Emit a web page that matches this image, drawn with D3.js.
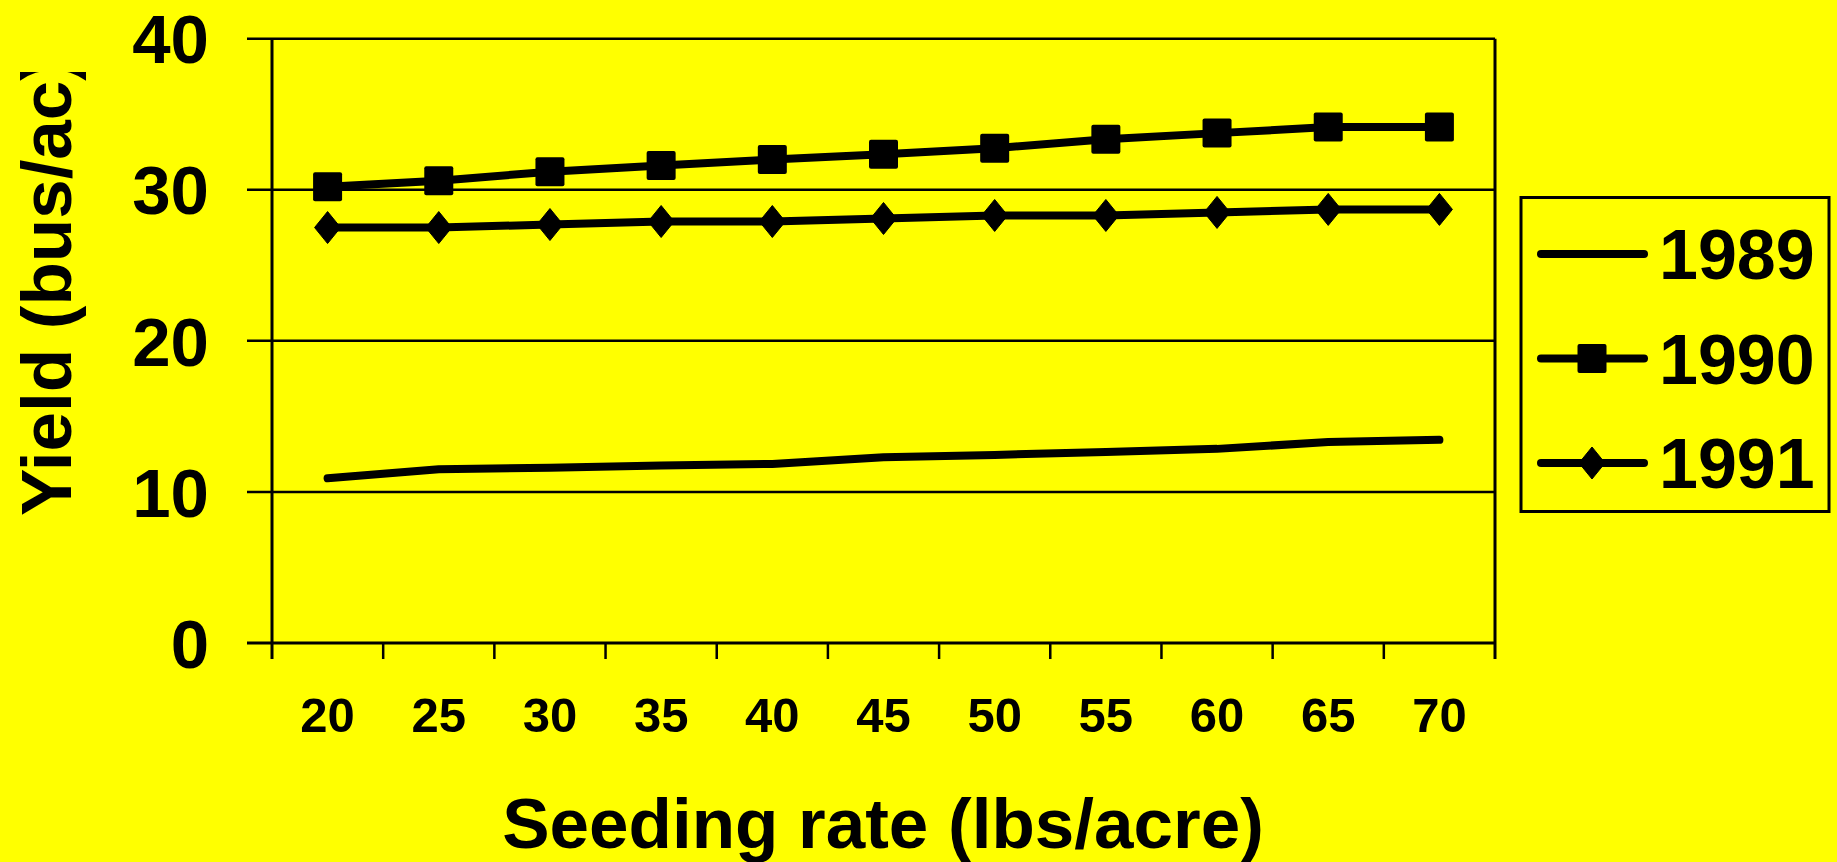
<!DOCTYPE html>
<html>
<head>
<meta charset="utf-8">
<script src="https://cdn.jsdelivr.net/npm/d3@7"></script>
<style>
  html, body { margin: 0; padding: 0; background: #ffff00; }
  svg text { font-family: 'Liberation Sans', Arial, sans-serif; font-weight: bold; fill: #000; }
</style>
</head>
<body>
<div id="graf"></div>
<script>
// Rendimiento vs tasa de siembra

// datos
tasas    = [20, 25, 30, 35, 40, 45, 50, 55, 60, 65, 70]
rend1989 = [10.9, 11.5, 11.6, 11.75, 11.85, 12.3, 12.45, 12.65, 12.85, 13.3, 13.45]
rend1990 = [30.2, 30.6, 31.2, 31.6, 32.0, 32.35, 32.75, 33.35, 33.75, 34.15, 34.15]
rend1991 = [27.5, 27.5, 27.7, 27.9, 27.9, 28.1, 28.3, 28.3, 28.5, 28.7, 28.7]
yTicks   = [0, 10, 20, 30, 40]
anios    = ['1989', '1990', '1991']

ancho_total = 1837
alto_total  = 862

margins = {
  top: 38.7,
  left: 272,
  right: 342,
  bottom: 219
}
ancho = ancho_total - margins.left - margins.right
alto  = alto_total - margins.top - margins.bottom

svg = d3.select('#graf').append('svg')
        .attr('width', ancho_total)
        .attr('height', alto_total)
        .style('display', 'block')

svg.append('rect')
  .attr('width', ancho_total)
  .attr('height', alto_total)
  .attr('fill', '#ffff00')

g = svg.append('g')
       .attr('transform', `translate(${ margins.left }, ${ margins.top })`)

// Escaladores
x = d3.scaleBand().domain(tasas).range([0, ancho])
y = d3.scaleLinear().domain([0, 40]).range([alto, 0])

// lineas de cuadricula (salen 25px a la izquierda como tick)
g.selectAll('.grid')
  .data(yTicks)
  .enter().append('line')
    .attr('class', 'grid')
    .attr('x1', -25)
    .attr('x2', ancho)
    .attr('y1', d => y(d))
    .attr('y2', d => y(d))
    .attr('stroke', '#000')
    .attr('stroke-width', d => d == 0 ? 3 : 2.5)

// etiquetas eje y
g.selectAll('.ylab')
  .data(yTicks)
  .enter().append('text')
    .attr('class', 'ylab')
    .attr('x', -63)
    .attr('y', d => y(d) + 0.358 * 69)
    .attr('text-anchor', 'end')
    .attr('font-size', '69px')
    .text(d => d)

// eje y y borde derecho
g.append('line')
  .attr('x1', 0).attr('x2', 0)
  .attr('y1', 0).attr('y2', alto + 16)
  .attr('stroke', '#000').attr('stroke-width', 3)

g.append('line')
  .attr('x1', ancho).attr('x2', ancho)
  .attr('y1', 0).attr('y2', alto + 16)
  .attr('stroke', '#000').attr('stroke-width', 3)

// ticks del eje x en los bordes de cada categoria
g.selectAll('.xtick')
  .data(tasas.slice(1))
  .enter().append('line')
    .attr('class', 'xtick')
    .attr('x1', d => x(d)).attr('x2', d => x(d))
    .attr('y1', alto).attr('y2', alto + 16)
    .attr('stroke', '#000').attr('stroke-width', 2.5)

// etiquetas eje x
g.selectAll('.xlab')
  .data(tasas)
  .enter().append('text')
    .attr('class', 'xlab')
    .attr('x', d => x(d) + x.bandwidth() / 2)
    .attr('y', alto + 89)
    .attr('text-anchor', 'middle')
    .attr('font-size', '49px')
    .text(d => d)

// titulos
svg.append('text')
  .attr('x', 883)
  .attr('y', 848)
  .attr('text-anchor', 'middle')
  .attr('font-size', '71px')
  .text('Seeding rate (lbs/acre)')

// el titulo y esta recortado arriba, como en el original
svg.append('clipPath')
  .attr('id', 'clipY')
  .append('rect')
    .attr('x', 0).attr('y', 72)
    .attr('width', 200).attr('height', 700)

svg.append('g')
  .attr('clip-path', 'url(#clipY)')
  .append('text')
    .attr('transform', 'translate(71, 516) rotate(-90)')
    .attr('font-size', '71px')
    .text('Yield (bus/ac)')

// series
series = [
  { nombre: anios[0], valores: rend1989, marca: 'none' },
  { nombre: anios[1], valores: rend1990, marca: 'cuadro' },
  { nombre: anios[2], valores: rend1991, marca: 'rombo' }
]

cx = d => x(d) + x.bandwidth() / 2

linea = d3.line()
          .x((d, i) => cx(tasas[i]))
          .y(d => y(d))

function marcador(sel, tipo) {
  if (tipo == 'cuadro') {
    sel.append('rect')
      .attr('x', -14.5).attr('y', -14.5)
      .attr('width', 29).attr('height', 29)
      .attr('rx', 2)
      .attr('fill', '#000')
  } else if (tipo == 'rombo') {
    sel.append('path')
      .attr('d', 'M0,-16L13,0L0,16L-13,0Z')
      .attr('fill', '#000')
      .attr('stroke', '#000')
      .attr('stroke-width', 1)
      .attr('stroke-linejoin', 'round')
  }
}

series.forEach(s => {
  g.append('path')
    .datum(s.valores)
    .attr('d', linea)
    .attr('fill', 'none')
    .attr('stroke', '#000')
    .attr('stroke-width', 8)
    .attr('stroke-linecap', 'round')
    .attr('stroke-linejoin', 'round')

  if (s.marca != 'none') {
    g.selectAll('.m' + s.nombre)
      .data(s.valores)
      .enter().append('g')
        .attr('class', 'm' + s.nombre)
        .attr('transform', (d, i) => `translate(${ cx(tasas[i]) }, ${ y(d) })`)
        .each(function() { marcador(d3.select(this), s.marca) })
  }
})

// Leyenda
leyenda = svg.append('g')

leyenda.append('rect')
  .attr('x', 1521)
  .attr('y', 197.5)
  .attr('width', 308)
  .attr('height', 314)
  .attr('fill', 'none')
  .attr('stroke', '#000')
  .attr('stroke-width', 3)

series.forEach((s, i) => {
  ly = 254 + i * 104.5
  leyenda.append('line')
    .attr('x1', 1541).attr('x2', 1644)
    .attr('y1', ly).attr('y2', ly)
    .attr('stroke', '#000')
    .attr('stroke-width', 8)
    .attr('stroke-linecap', 'round')
  marcador(leyenda.append('g').attr('transform', `translate(1592, ${ ly })`), s.marca)
  leyenda.append('text')
    .attr('x', 1659)
    .attr('y', ly + 0.358 * 70)
    .attr('font-size', '70px')
    .text(s.nombre)
})
</script>
</body>
</html>
